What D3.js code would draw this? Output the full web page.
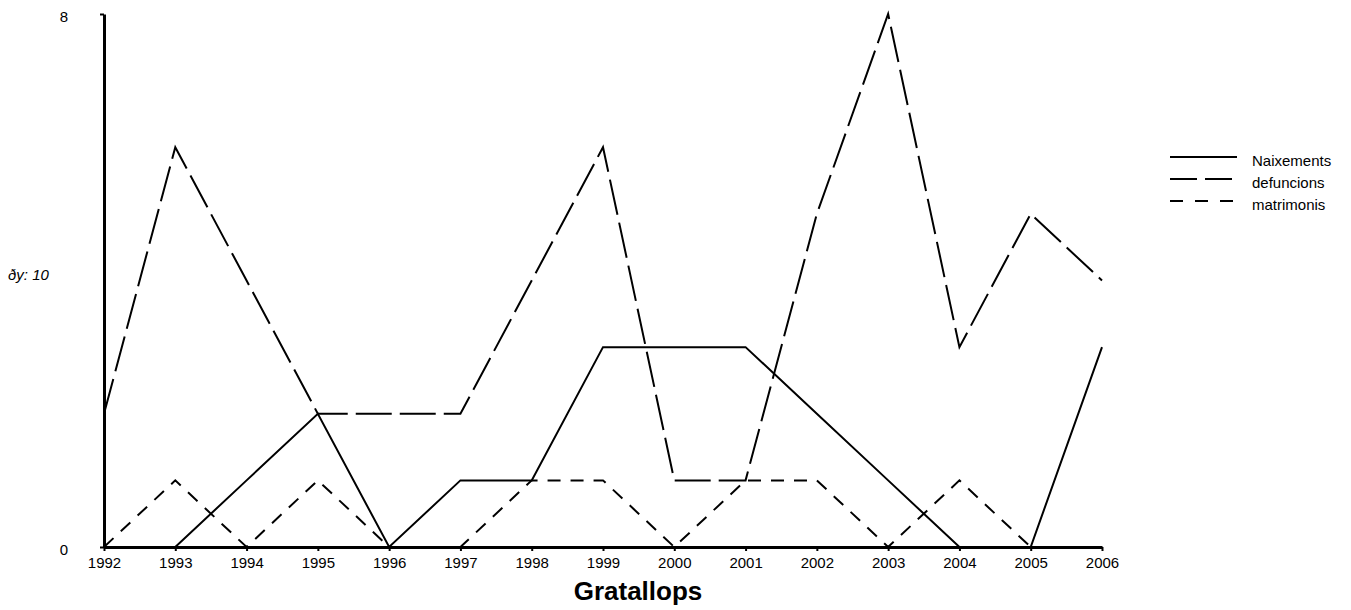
<!DOCTYPE html>
<html>
<head>
<meta charset="utf-8">
<script src="https://cdn.jsdelivr.net/npm/d3@7"></script>
<style>
  body { margin: 0; background: #fff; }
  text { font-family: "Liberation Sans", Arial, sans-serif; }
</style>
</head>
<body>
<div id="chart"></div>
<script>
// data
var years = [1992,1993,1994,1995,1996,1997,1998,1999,2000,2001,2002,2003,2004,2005,2006];
var naixements = [0,0,1,2,0,1,1,3,3,3,2,1,0,0,3];
var defuncions = [2,6,4,2,2,2,4,6,1,1,5,8,3,5,4];
var matrimonis = [0,1,0,1,0,0,1,1,0,1,1,0,1,0,0];
var seriesNames = ["Naixements","defuncions","matrimonis"];
var yTicks = [0, 8];

const width = 1351, height = 610;
const mLeft = 104, mRight = 1102, mTop = 14, mBottom = 547;

var svg = d3.select("#chart").append("svg")
  .attr("width", width).attr("height", height);

var x = d3.scalePoint().domain(years).range([mLeft, mRight]);
var y = d3.scaleLinear().domain([0, 8]).range([mBottom, mTop]);

var styles = [
  {dash: null, legendDash: null},
  {dash: "36,8", legendDash: "27,8"},
  {dash: "13,10", legendDash: "13,12"}
];
var allSeries = [naixements, defuncions, matrimonis];

var line = d3.line()
  .x(function(d, i) { return x(years[i]); })
  .y(function(d) { return y(d); });

allSeries.forEach(function(s, k) {
  svg.append("path")
    .datum(s)
    .attr("d", line)
    .attr("fill", "none")
    .attr("stroke", "#000")
    .attr("stroke-width", 2)
    .attr("stroke-dasharray", styles[k].dash);
});

// x axis
var xAxis = d3.axisBottom(x).tickSize(4).tickPadding(6).tickSizeOuter(0);
var gx = svg.append("g").attr("transform", "translate(0," + mBottom + ")").call(xAxis);
gx.select(".domain").attr("stroke-width", 3);
gx.selectAll(".tick line").attr("stroke-width", 2);
gx.selectAll("text").style("font-size", "15px").attr("fill", "#000");

// y axis
var yAxis = d3.axisLeft(y).tickValues(yTicks).tickSize(4).tickPadding(32).tickSizeOuter(0);
var gy = svg.append("g").attr("transform", "translate(" + mLeft + ",0)").call(yAxis);
gy.select(".domain").attr("stroke-width", 3);
gy.selectAll(".tick line").attr("stroke-width", 2);
gy.selectAll("text").style("font-size", "15px").attr("fill", "#000").attr("dy", "0.5em");

// titles
svg.append("text")
  .attr("x", 638).attr("y", 600)
  .attr("text-anchor", "middle")
  .style("font-size", "26px").style("font-weight", "bold")
  .text("Gratallops");

svg.append("text")
  .attr("x", 8).attr("y", 280)
  .style("font-size", "15px").style("font-style", "italic")
  .text("ðy: 10");

// legend
var legend = svg.append("g").attr("transform", "translate(1170,157)");
seriesNames.forEach(function(name, k) {
  var g = legend.append("g").attr("transform", "translate(0," + (k * 22) + ")");
  g.append("line")
    .attr("x1", 0).attr("x2", 67).attr("y1", 0).attr("y2", 0)
    .attr("stroke", "#000").attr("stroke-width", 2)
    .attr("stroke-dasharray", styles[k].legendDash);
  g.append("text")
    .attr("x", 82).attr("y", 9)
    .style("font-size", "15px")
    .text(name);
});
</script>
</body>
</html>
